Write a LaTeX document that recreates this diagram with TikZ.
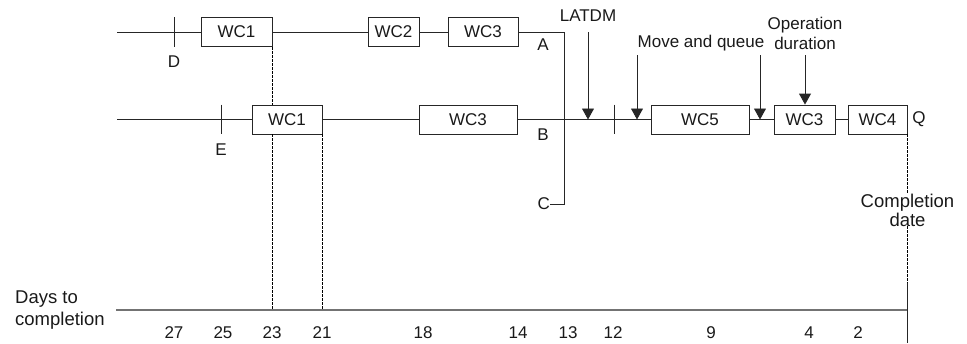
\documentclass[tikz,border=0pt]{standalone}
\usepackage{fontspec}
\setmainfont{Liberation Sans}
\usetikzlibrary{arrows.meta}
\begin{document}
\begin{tikzpicture}[x=1pt,y=-1pt,
  every node/.style={font=\fontsize{17}{20}\selectfont, inner sep=0pt, text=black!90},
  box/.style={draw=black!85, line width=0.9pt, minimum height=29pt},
  ln/.style={draw=black!85, line width=0.9pt},
  dsh/.style={draw=black, line width=1.3pt, dash pattern=on 3pt off 1pt},
  arr/.style={draw=black!85, fill=black!85, line width=0.9pt, -{Triangle[width=12pt,length=11pt]}},
  axisln/.style={draw=black!55, line width=1.3pt}
]
\path[use as bounding box] (0,0) rectangle (967,343);

% top row
\coordinate (tstart) at (117,32);
\coordinate (tD) at (174,32);
\node[box, minimum width=71pt] (t1) at (236.5,32) {WC1};
\node[box, minimum width=51pt] (t2) at (393.5,32) {WC2};
\node[box, minimum width=70pt] (t3) at (483,32) {WC3};
\coordinate (tend) at (564,32);
\coordinate (cend) at (564,204);
\node (A) at (543,45) {A};
\node[anchor=east] (C) at (550,204) {C};
\node (D) at (174,62) {D};

\draw[ln] (tstart) -- (t1.west);
\draw[ln] (tD |- t1.north) -- (tD |- t1.south);
\draw[ln] (t1.east) -- (t2.west);
\draw[ln] (t2.east) -- (t3.west);
\draw[ln] (t3.east) -- (tend) -- (cend) -- (C.east);

% middle row
\coordinate (mstart) at (117,119.5);
\coordinate (mE) at (221,119.5);
\node[box, minimum width=70pt] (m1) at (287,119.5) {WC1};
\node[box, minimum width=98pt] (m3) at (468,119.5) {WC3};
\node[box, minimum width=98pt] (m5) at (700,119.5) {WC5};
\node[box, minimum width=61pt] (m3b) at (804.5,119.5) {WC3};
\node[box, minimum width=59pt] (m4) at (877.5,119.5) {WC4};
\coordinate (mtick) at (614,119.5);
\node (E) at (221,150) {E};
\node (B) at (543,135) {B};
\node (Q) at (919,119.5) {Q};

\draw[ln] (mstart) -- (m1.west);
\draw[ln] (mE |- m1.north) -- (mE |- m1.south);
\draw[ln] (m1.east) -- (m3.west);
\draw[ln] (m3.east) -- (m5.west);
\draw[ln] (mtick |- m1.north) -- (mtick |- m1.south);
\draw[ln] (m5.east) -- (m3b.west);
\draw[ln] (m3b.east) -- (m4.west);

% arrows and labels
\node (latdm) at (588,16) {LATDM};
\node (mq) at (701,43) {Move and queue};
\node[align=center, font=\fontsize{17}{20}\selectfont] (op) at (805,33) {Operation\\duration};
\coordinate (a1s) at (588,32);
\coordinate (a1e) at (588,119.5);
\coordinate (a2s) at (637,55);
\coordinate (a2e) at (637,119.5);
\coordinate (a3s) at (760,55);
\coordinate (a3e) at (760,119.5);
\coordinate (a4s) at (805,55);
\draw[arr] (a1s) -- (a1e);
\draw[arr] (a2s) -- (a2e);
\draw[arr] (a3s) -- (a3e);
\draw[arr] (a4s) -- (a4s |- m3b.north);

% axis
\coordinate (axL) at (116,310);
\coordinate (axR) at (908,310);
\draw[axisln] (axL) -- (axR);
\node[align=left, anchor=west, font=\fontsize{18.5}{22}\selectfont] (days) at (15,310) {Days to\\completion};

% dashed links
\draw[dsh] (t1.south east) -- (t1.south east |- m1.north);
\draw[dsh] (t1.south east |- m1.south) -- (t1.south east |- axL);
\draw[dsh] (m1.south east) -- (m1.south east |- axL);

% completion date
\node[align=center, font=\fontsize{18.5}{19}\selectfont] (cd) at (907.5,210) {Completion\\date};
\coordinate (cdb) at (907.5,283);
\coordinate (cde) at (907.5,343);
\draw[dsh] (m4.south east) -- (m4.south east |- cd.north);
\draw[dsh] (cd.south -| cdb) -- (cdb);
\draw[ln] (cdb) -- (cde);

% numbers
\foreach \n/\x in {27/174,25/223,23/272,21/322,18/423,14/518,13/568,12/613,9/711,4/809,2/858}
  \node (n\n) at (\x,333) {\n};
\end{tikzpicture}
\end{document}
